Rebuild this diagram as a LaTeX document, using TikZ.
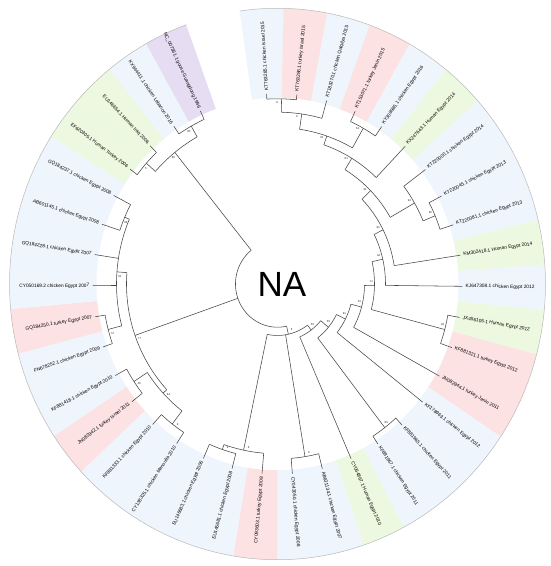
\documentclass[tikz,border=0pt]{standalone}
\usepackage{fontspec}
\setmainfont{Liberation Sans}
\definecolor{sblue}{HTML}{EFF5FC}
\definecolor{sred}{HTML}{FCE2E2}
\definecolor{sgreen}{HTML}{EDF8E0}
\definecolor{spurple}{HTML}{E6DDF2}
\definecolor{brc}{HTML}{454545}
\newcommand\strip[2]{%
  \pgfmathsetmacro\sa{#1-4.72}\pgfmathsetmacro\sb{#1+4.72}%
  \fill[#2] plot[domain=\sa:\sb,samples=12] (\x:268) -- plot[domain=\sb:\sa,samples=12] (\x:181) -- cycle;}
\newcommand\inode[7]{%
  \coordinate (#1) at (#2:#3);
  \draw[br] (#2:#4) -- (#1);
  \draw[br] plot[domain=#5:#6,samples=30] (\x:#3);
  \pgfmathsetmacro\ba{#2+260/#3}%
  \pgfmathsetmacro\br{#3-3.2}%
  \node[bs] (b#1) at (\ba:\br) {#7};}
\newcommand\leafitem[4]{%
  \coordinate (l#1) at (#2:185);
  \draw[br] (#2:#3) -- (l#1);
  \pgfmathtruncatemacro\flip{(#2<-90.5 || #2>100) ? 1 : 0}%
  \ifnum\flip=1
    \node[lbl,anchor=east,rotate=#2+180] (t#1) at (#2:188) {#4};
  \else
    \node[lbl,anchor=west,rotate=#2] (t#1) at (#2:188) {#4};
  \fi}
\begin{document}
\begin{tikzpicture}[x=1pt,y=1.029pt,
  br/.style={draw=brc,line width=0.55pt},
  lbl/.style={font=\fontsize{4.8}{5}\selectfont,inner sep=0pt,text=black},
  bs/.style={font=\fontsize{2.8}{3}\selectfont,inner sep=0pt,text=black!85}]
\useasboundingbox (-277.5,-274.05) rectangle (272.5,276.0);
% colour strips
\foreach \a/\c in {93.40/sblue,83.99/sred,74.58/sblue,65.17/sred,55.76/sblue,46.35/sgreen,
  36.94/sblue,27.53/sblue,18.12/sblue,8.71/sgreen,-0.70/sblue,-10.11/sgreen,-19.52/sred,
  -28.93/sred,-38.34/sblue,-47.75/sblue,-57.16/sblue,-66.57/sgreen,-75.98/sblue,-85.39/sblue,
  -94.80/sred,-104.21/sblue,-113.62/sblue,-123.03/sblue,-132.44/sblue,-141.85/sred,
  -151.26/sblue,-160.67/sblue,-170.08/sred,-179.49/sblue,-188.90/sblue,-198.31/sblue,
  -207.72/sblue,-217.13/sgreen,-226.54/sgreen,-235.95/sblue,-245.36/spurple}
  {\strip{\a}{\c}}
\draw[draw=gray!55,line width=0.5pt] plot[domain=-250.1:98.1,samples=200] (\x:268);
% root
\coordinate (root) at (-154:42);
\draw[br] plot[domain=-231.25:-77.46,samples=100] (\x:42);
% upper-left clade
\inode{nX}{-231.25}{164}{42}{-240.66}{-221.84}{86}
\inode{n3435}{-221.84}{176}{164}{-226.54}{-217.13}{5}
\inode{n3637}{-240.66}{176}{164}{-245.36}{-235.95}{80}
% left clade
\inode{nY}{-160.68}{151}{42}{-184.2}{-137.15}{77}
\inode{n91}{-184.2}{161}{151}{-203.02}{-165.38}{91}
\inode{n3233}{-203.02}{166}{161}{-207.72}{-198.31}{99}
\inode{n2829}{-165.38}{175}{161}{-170.08}{-160.67}{74}
\inode{n2427}{-137.15}{156}{151}{-146.56}{-127.74}{84}
\inode{n2425}{-127.74}{172}{156}{-132.44}{-123.03}{9}
\inode{n2627}{-146.56}{172}{156}{-151.26}{-141.85}{46}
% lower / right clade
\inode{nR2}{-77.46}{50}{42}{-101.86}{-53.06}{6}
\inode{nB1}{-101.86}{165}{50}{-108.92}{-94.80}{8}
\inode{n2223}{-108.92}{170}{165}{-113.62}{-104.21}{9}
\inode{n1920}{-80.69}{170}{50}{-85.39}{-75.98}{6}
\inode{nN1}{-53.06}{56}{50}{-66.57}{-39.55}{55}
\inode{nN2}{-39.55}{66}{56}{-52.46}{-26.65}{55}
\inode{n1617}{-52.46}{176}{66}{-57.16}{-47.75}{86}
\inode{nN3}{-26.65}{76}{66}{-38.34}{-14.95}{81}
\inode{nN4}{-14.95}{87}{76}{-28.93}{-0.96}{54}
\inode{nN5}{-0.96}{97}{87}{-14.82}{12.90}{71}
\inode{n1213}{-14.82}{173}{97}{-19.52}{-10.11}{94}
\inode{nN6}{12.90}{108}{97}{-0.70}{26.50}{94}
\inode{nN7}{26.50}{118}{108}{8.71}{44.29}{94}
\inode{nN8}{44.29}{130}{118}{29.88}{58.70}{91}
\inode{n789}{29.88}{158}{130}{22.83}{36.94}{94}
\inode{n89}{22.83}{171}{158}{18.12}{27.53}{96}
\inode{nN9}{58.70}{143}{130}{46.35}{71.06}{81}
\inode{nN10}{71.06}{152}{143}{60.47}{81.64}{33}
\inode{n45}{60.47}{174}{152}{55.76}{65.17}{61}
\inode{n123}{81.64}{167}{152}{74.58}{88.70}{9}
\inode{n12}{88.70}{180}{167}{83.99}{93.40}{8}
% leaves
\foreach \i/\a/\p/\t in {
 1/93.40/180/{KT763285.1 chicken Israel 2015},
 2/83.99/180/{KT763286.1 turkey Israel 2015},
 3/74.58/167/{KT183270.1 chicken Qalqilya 2015},
 4/65.17/174/{KT153071.1 turkey Jenin 2015},
 5/55.76/174/{KY308985.1 chicken Egypt 2016},
 6/46.35/143/{KX247643.1 Human Egypt 2014},
 7/36.94/158/{KT220000.1 chicken Egypt 2014},
 8/27.53/171/{KT220045.1 chicken Egypt 2013},
 9/18.12/171/{KT220081.1 chicken Egypt 2013},
 10/8.71/118/{KM302418.1 Human Egypt 2014},
 11/-0.70/108/{KJ647308.1 chicken Egypt 2012},
 12/-10.11/173/{JX456105.1 Human Egypt 2012},
 13/-19.52/173/{KF881321.1 turkey Egypt 2012},
 14/-28.93/87/{JN082944.1 turkey Jenin 2011},
 15/-38.34/76/{KF178963.1 chicken Egypt 2012},
 16/-47.75/176/{KF881965.1 chicken Egypt 2011},
 17/-57.16/176/{KF881967.1 chicken Egypt 2011},
 18/-66.57/56/{CY064867.1 Human Egypt 2010},
 19/-75.98/170/{AB631134.1 chicken Egypt 2007},
 20/-85.39/170/{CY043050.1 chicken Egypt 2008},
 21/-94.80/165/{CY093603.1 turkey Egypt 2008},
 22/-104.21/170/{EU146681.1 chicken Egypt 2008},
 23/-113.62/170/{EU146683.1 chicken Egypt 2006},
 24/-123.03/172/{CY138325.1 chicken Menoufia 2010},
 25/-132.44/172/{KF881333.1 chicken Egypt 2010},
 26/-141.85/172/{JN082942.1 turkey Israel 2011},
 27/-151.26/172/{KF881418.1 chicken Egypt 2010},
 28/-160.67/175/{FN678252.1 chicken Egypt 2009},
 29/-170.08/175/{GQ184250.1 turkey Egypt 2007},
 30/-179.49/161/{CY050169.2 chicken Egypt 2007},
 31/-188.90/161/{GQ184228.1 chicken Egypt 2007},
 32/-198.31/166/{AB601145.1 chicken Egypt 2008},
 33/-207.72/166/{GQ184237.1 chicken Egypt 2008},
 34/-217.13/176/{EF620305.1 Human Turkey 2006},
 35/-226.54/176/{EU146654.1 Human Iraq 2006},
 36/-235.95/176/{KX944411.1 chicken Lebanon 2016},
 37/-245.36/176/{NC\_007361.1 goose Guangdong 1996}}
 {\leafitem{\i}{\a}{\p}{\t}}
\node[font=\fontsize{35}{36}\selectfont,inner sep=0pt] (na) at (4.5,0) {NA};
\end{tikzpicture}
\end{document}
